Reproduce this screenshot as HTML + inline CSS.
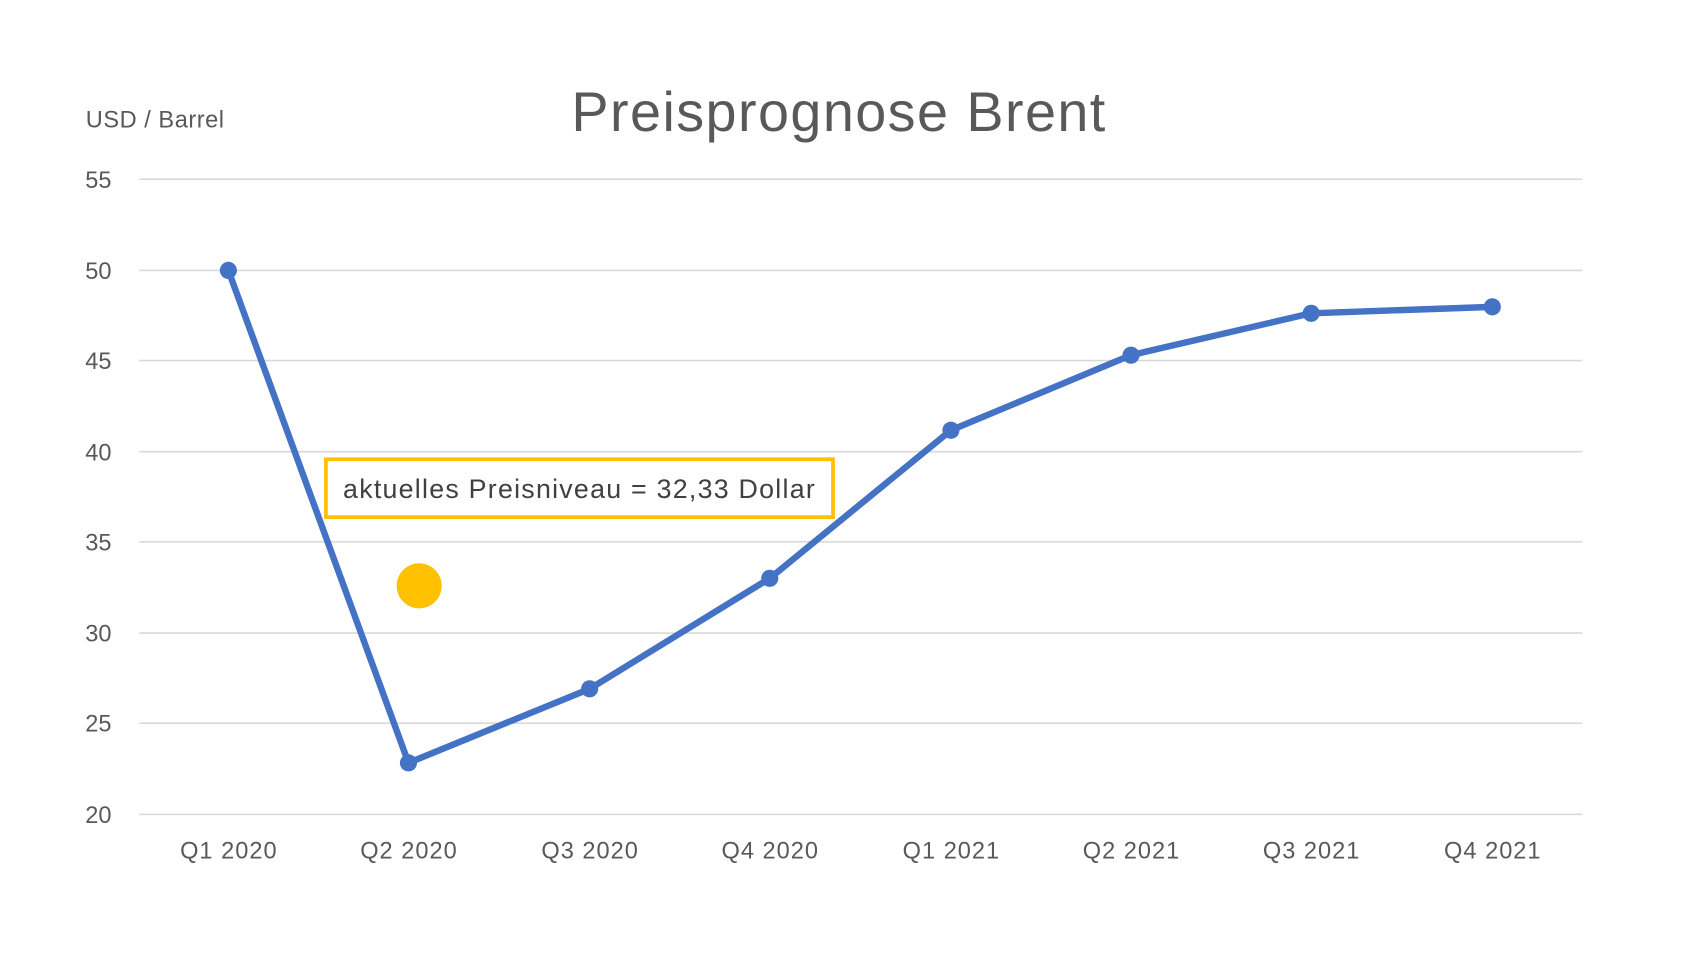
<!DOCTYPE html>
<html><head><meta charset="utf-8"><style>html,body{margin:0;padding:0;background:#fff;overflow:hidden}</style></head>
<body>
<svg width="1681" height="956" viewBox="0 0 1568 891" preserveAspectRatio="none" xmlns="http://www.w3.org/2000/svg" font-family="'Liberation Sans', sans-serif">
<rect width="1568" height="891" fill="#fff"/>
<g stroke="#d9d9d9" stroke-width="1.5">
<line x1="130" x2="1476" y1="167" y2="167"/><line x1="130" x2="1476" y1="252" y2="252"/>
<line x1="130" x2="1476" y1="336" y2="336"/><line x1="130" x2="1476" y1="421" y2="421"/>
<line x1="130" x2="1476" y1="505" y2="505"/><line x1="130" x2="1476" y1="590" y2="590"/>
<line x1="130" x2="1476" y1="674" y2="674"/><line x1="130" x2="1476" y1="759" y2="759"/>
</g>
<g fill="#595959" font-size="22" text-anchor="end">
<text x="104" y="175">55</text><text x="104" y="260">50</text><text x="104" y="344">45</text>
<text x="104" y="429">40</text><text x="104" y="513">35</text><text x="104" y="598">30</text>
<text x="104" y="682">25</text><text x="104" y="767">20</text>
</g>
<g fill="#595959" font-size="22">
<text x="168" y="800" textLength="90">Q1 2020</text><text x="336" y="800" textLength="90">Q2 2020</text><text x="505" y="800" textLength="90">Q3 2020</text>
<text x="673" y="800" textLength="90">Q4 2020</text><text x="842" y="800" textLength="90">Q1 2021</text><text x="1010" y="800" textLength="90">Q2 2021</text>
<text x="1178" y="800" textLength="90">Q3 2021</text><text x="1347" y="800" textLength="90">Q4 2021</text>
</g>
<text x="80" y="119" fill="#595959" font-size="22" textLength="129">USD / Barrel</text>
<text x="533" y="122" fill="#595959" font-size="52" textLength="498">Preisprognose Brent</text>
<polyline fill="none" stroke="#4472C4" stroke-width="6" stroke-linejoin="round" points="213,252 381,711 550,642 718,539 887,401 1055,331 1223,292 1392,286"/>
<g fill="#4472C4">
<circle cx="213" cy="252" r="8"/><circle cx="381" cy="711" r="8"/><circle cx="550" cy="642" r="8"/>
<circle cx="718" cy="539" r="8"/><circle cx="887" cy="401" r="8"/><circle cx="1055" cy="331" r="8"/>
<circle cx="1223" cy="292" r="8"/><circle cx="1392" cy="286" r="8"/>
</g>
<circle cx="391" cy="546" r="21" fill="#FFC000"/>
<rect x="304" y="428" width="473" height="54" fill="#fff" stroke="#FFC000" stroke-width="3.5"/>
<text x="320" y="464" fill="#404040" font-size="25" textLength="440">aktuelles Preisniveau = 32,33 Dollar</text>
</svg>
</body></html>
